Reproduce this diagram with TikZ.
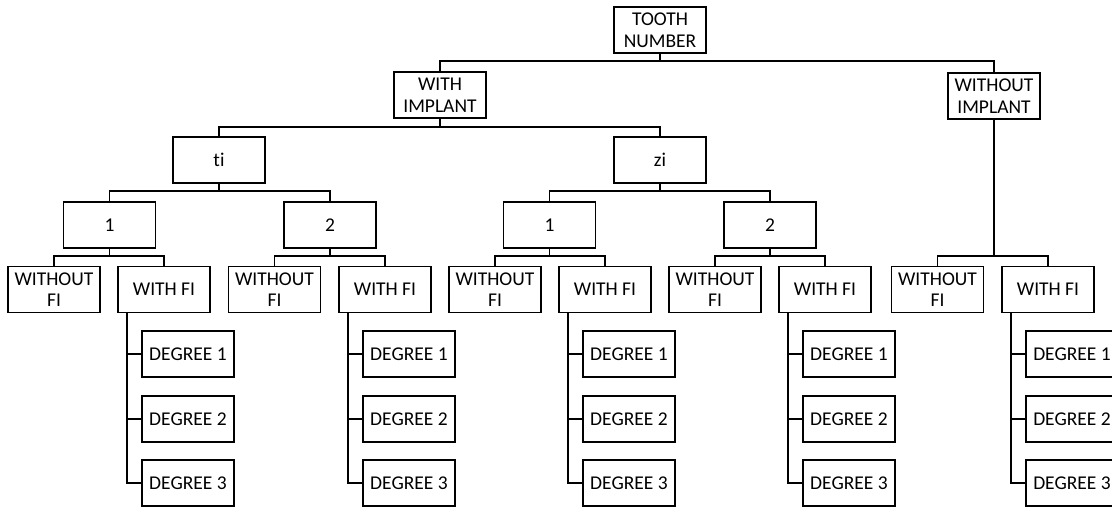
\documentclass[tikz,border=0pt]{standalone}
\usepackage{fontspec}
\setmainfont{Carlito}[Ligatures={NoCommon}]
\begin{document}
\begin{tikzpicture}[x=1pt,y=-1pt,
  box/.style={draw=black,line width=1.8pt,minimum width=92pt,minimum height=46pt,inner sep=0pt,align=center,font=\fontsize{19.5}{21.5}\selectfont,text=black},
  link/.style={draw=black,line width=1.8pt}]
\clip (0,0) rectangle (1112,507);
% level 0-1
\node[box] (root) at (660,30) {TOOTH\\NUMBER};
\node[box] (wi) at (440,95) {WITH\\IMPLANT};
\node[box] (wo) at (994,96) {WITHOUT\\IMPLANT};
% level 2
\node[box] (ti) at (219,160) {ti};
\node[box] (zi) at (660,160) {zi};
% level 3
\node[box] (t1) at (109.5,225) {1};
\node[box] (t2) at (330,225) {2};
\node[box] (z1) at (549.5,225) {1};
\node[box] (z2) at (770,225) {2};
% level 4
\node[box] (t1a) at (54,289.5) {WITHOUT\\FI};
\node[box] (t1b) at (164,289.5) {WITH FI};
\node[box] (t2a) at (274.5,289.5) {WITHOUT\\FI};
\node[box] (t2b) at (385,289.5) {WITH FI};
\node[box] (z1a) at (495,289.5) {WITHOUT\\FI};
\node[box] (z1b) at (605,289.5) {WITH FI};
\node[box] (z2a) at (715,289.5) {WITHOUT\\FI};
\node[box] (z2b) at (825,289.5) {WITH FI};
\node[box] (woa) at (937.5,289.5) {WITHOUT\\FI};
\node[box] (wob) at (1048,289.5) {WITH FI};
% degrees
\foreach \g/\x in {t1b/188,t2b/409,z1b/629,z2b/849,wob/1072}{
  \node[box] (\g d1) at (\x,354) {DEGREE 1};
  \node[box] (\g d2) at (\x,419) {DEGREE 2};
  \node[box] (\g d3) at (\x,483) {DEGREE 3};
  \coordinate (\g s) at ([xshift=10]\g.south west);
  \draw[link] (\g s) |- (\g d3.west);
  \draw[link] (\g d1.west) -- (\g d1.west -| \g s);
  \draw[link] (\g d2.west) -- (\g d2.west -| \g s);
}
% tree connectors
\draw[link] (wi.north) -- ++(0,-10) coordinate (b0) -| (wo.north);
\draw[link] (root.south) -- (root.south |- b0);
\draw[link] (ti.north) -- ++(0,-9) coordinate (b1) -| (zi.north);
\draw[link] (wi.south) -- (wi.south |- b1);
\foreach \p/\a/\b in {ti/t1/t2, zi/z1/z2, t1/t1a/t1b, t2/t2a/t2b, z1/z1a/z1b, z2/z2a/z2b, wo/woa/wob}{
  \draw[link] (\a.north) -- ++(0,-10) coordinate (\p bus) -| (\b.north);
  \draw[link] (\p.south) -- (\p.south |- \p bus);
}
\end{tikzpicture}
\end{document}
